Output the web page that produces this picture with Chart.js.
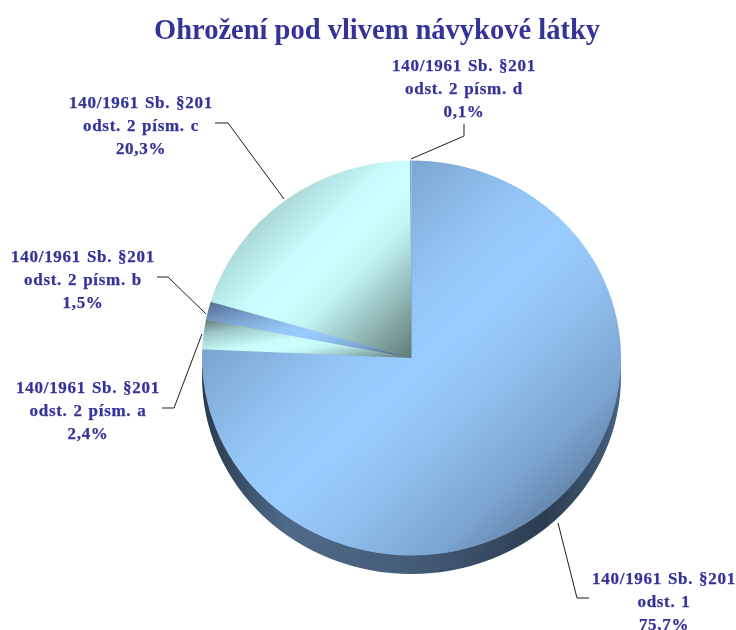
<!DOCTYPE html>
<html><head><meta charset="utf-8">
<style>html,body{margin:0;padding:0;background:#fff}canvas{display:block}</style>
<script src="https://cdn.jsdelivr.net/npm/chart.js@4"></script>
</head><body><canvas id="c" width="736" height="630"></canvas>
<script>
const chartTitle = 'Ohrožení pod vlivem návykové látky';
const lineOne = '140/1961 Sb. §201';
const categories = ['odst. 1', 'odst. 2 písm. a', 'odst. 2 písm. b', 'odst. 2 písm. c', 'odst. 2 písm. d'];
const values = [75.7, 2.4, 1.5, 20.3, 0.1];
const percentLabels = ['75,7%', '2,4%', '1,5%', '20,3%', '0,1%'];
const blueStops = [[0, '#526d8c'], [0.24, '#7ba3cf'], [0.42, '#94c5f6'], [0.52, '#99ccff'], [0.62, '#92c2f2'], [0.78, '#7ba3cf'], [1, '#3f556c']];
const cyanStops = [[0, '#5e7a78'], [0.2, '#9cc8c6'], [0.45, '#c8fbfb'], [0.55, '#ccffff'], [0.65, '#c2f4f4'], [1, '#5e7a78']];
const labelBaselines = [[664, 584], [88, 393], [83, 262], [141, 108], [464, 71]];
const leaders = [
  [[558, 523], [577, 598], [589, 598]],
  [[162, 408], [174, 408], [202, 334]],
  [[157, 277], [168, 277], [206, 314]],
  [[215, 123], [228, 123], [284, 199]],
  [[411, 159], [464, 136], [464, 124]]
];

const CX = 411.5, CY = 358, RX = 209.5, RY = 197.5, DEPTH = 18.5;
const INK = '#333399';

function sliceAngles(i) {
  const total = values.reduce((a, b) => a + b, 0);
  let before = 0;
  for (let k = 0; k < i; k++) before += values[k];
  const s = -Math.PI / 2 + before / total * 2 * Math.PI;
  return [s, s + values[i] / total * 2 * Math.PI];
}
function sliceFill(ctx) {
  const chart = ctx.chart, i = ctx.dataIndex, area = chart.chartArea;
  if (!area) return '#99ccff';
  const [a0, a1] = sliceAngles(i);
  const xs = [CX], ys = [CY];
  const add = a => { xs.push(CX + RX * Math.cos(a)); ys.push(CY + RX * Math.sin(a)); };
  add(a0); add(a1);
  for (let q = -4; q <= 4; q++) { const a = q * Math.PI / 2; if (a > a0 && a < a1) add(a); }
  const x0 = Math.min(...xs), x1 = Math.max(...xs), y0 = Math.min(...ys), y1 = Math.max(...ys);
  const w = Math.max(x1 - x0, 1), h = Math.max(y1 - y0, 1);
  const len = Math.hypot(w, h), nx = h / len, ny = w / len;
  const d = w * nx + h * ny;
  const g = chart.ctx.createLinearGradient(x0, y0, x0 + nx * d, y0 + ny * d);
  (i % 2 === 0 ? blueStops : cyanStops).forEach(s => g.addColorStop(s[0], s[1]));
  return g;
}
const ellipse = {
  id: 'ellipse',
  beforeDatasetsDraw(chart) {
    const c = chart.ctx;
    const arcs = chart.getDatasetMeta(0).data;
    c.save();
    c.translate(CX, CY); c.scale(1, RY / RX); c.translate(-CX, -CY);
    const dy = DEPTH * RX / RY;
    const g = c.createLinearGradient(CX - RX, 0, CX + RX, 0);
    g.addColorStop(0, '#2a3c50'); g.addColorStop(0.06, '#33475d');
    g.addColorStop(0.2, '#4f6a88'); g.addColorStop(0.5, '#455c78');
    g.addColorStop(0.82, '#2c3d52'); g.addColorStop(0.95, '#3d5670'); g.addColorStop(1, '#4a6685');
    c.fillStyle = g;
    arcs.forEach(el => {
      const p = el.getProps(['x', 'y', 'startAngle', 'endAngle', 'outerRadius'], true);
      c.beginPath();
      c.moveTo(p.x, p.y + dy);
      c.arc(p.x, p.y + dy, p.outerRadius, p.startAngle, p.endAngle);
      c.closePath();
      c.fill();
    });
    c.fillStyle = '#b4d4e4';
    arcs.forEach(el => {
      const p = el.getProps(['x', 'y', 'startAngle', 'endAngle', 'outerRadius'], true);
      c.beginPath();
      c.moveTo(p.x, p.y);
      c.arc(p.x, p.y, p.outerRadius - 0.6, p.startAngle, p.endAngle);
      c.closePath();
      c.fill();
    });
    c.restore();
    c.save();
    c.translate(CX, CY); c.scale(1, RY / RX); c.translate(-CX, -CY);
  },
  afterDatasetsDraw(chart) {
    const c = chart.ctx;
    c.restore();
    c.save();
    c.strokeStyle = '#1c1c1c'; c.lineWidth = 1;
    leaders.forEach(pts => {
      c.beginPath();
      pts.forEach((p, k) => k ? c.lineTo(p[0], p[1]) : c.moveTo(p[0], p[1]));
      c.stroke();
    });
    c.fillStyle = INK; c.strokeStyle = INK; c.textAlign = 'center'; c.textBaseline = 'alphabetic';
    c.font = 'bold 28.5px "Liberation Serif"';
    c.fillText(chartTitle, 377, 39);
    c.font = 'bold 17px "Liberation Serif"';
    c.letterSpacing = '0.7px';
    c.wordSpacing = '1px';
    c.lineWidth = 0.25;
    categories.forEach((cat, i) => {
      const [x, y] = labelBaselines[i];
      [lineOne, cat, percentLabels[i]].forEach((t, k) => {
        c.fillText(t, x, y + 23 * k);
        c.strokeText(t, x, y + 23 * k);
      });
    });
    c.restore();
  }
};
new Chart(document.getElementById('c'), {
  type: 'pie',
  data: { labels: categories, datasets: [{ data: values, backgroundColor: sliceFill, borderWidth: 0 }] },
  options: {
    responsive: false, animation: false,
    layout: { padding: { left: CX - RX, right: 736 - CX - RX, top: CY - RX, bottom: 630 - CY - RX } },
    plugins: { legend: { display: false }, tooltip: { enabled: false }, title: { display: false } }
  },
  plugins: [ellipse]
});
</script></body></html>
